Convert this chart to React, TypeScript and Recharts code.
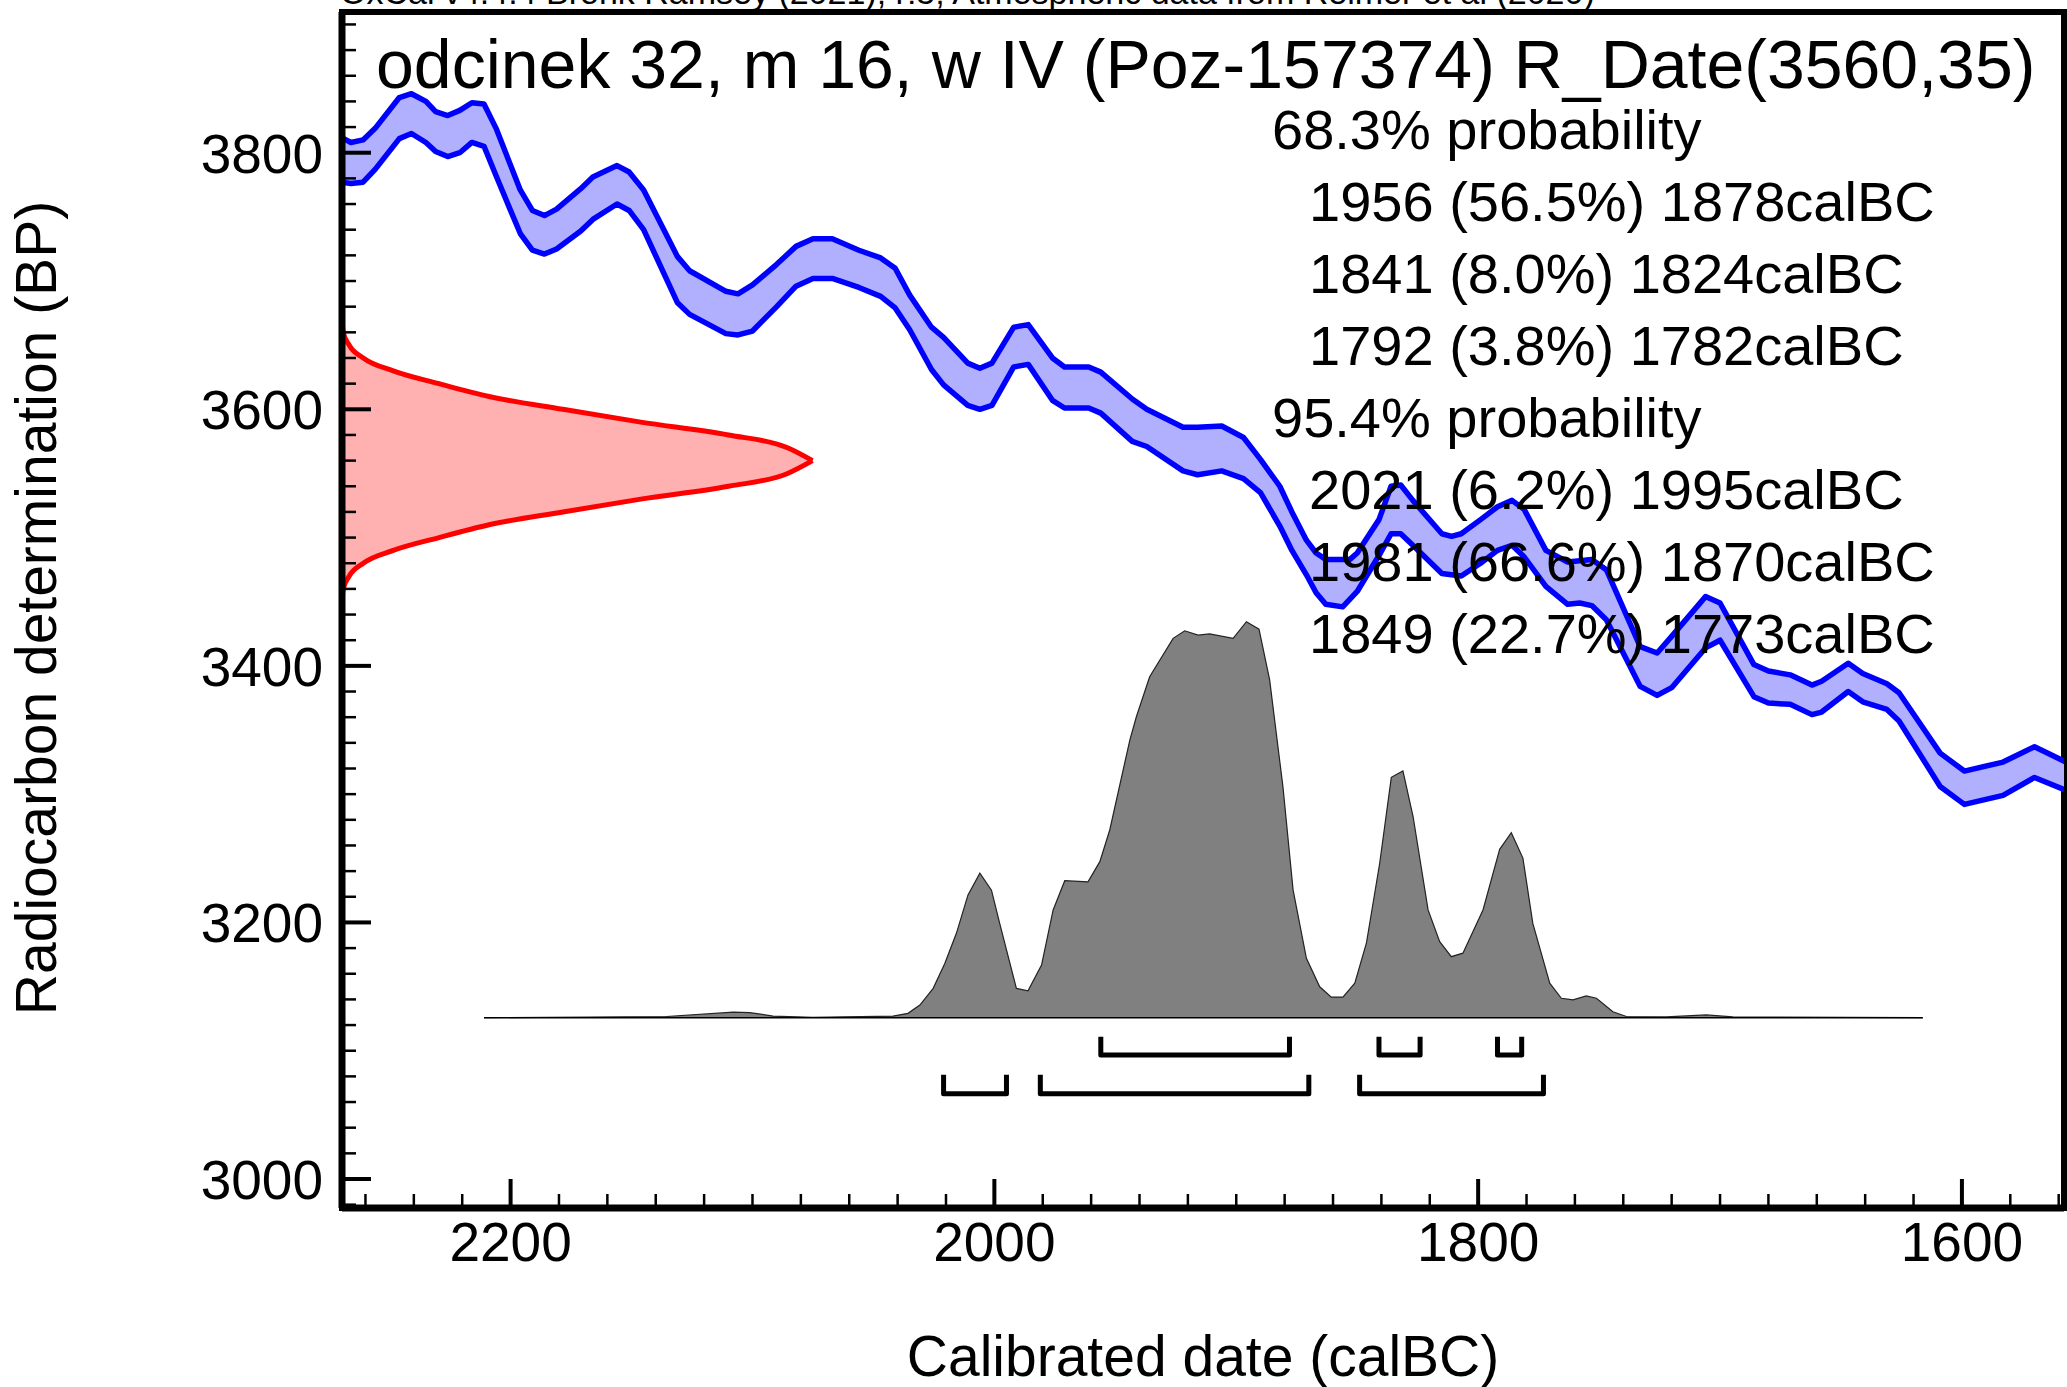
import React from 'react';
import { ComposedChart, Area, Line, XAxis, YAxis, ReferenceArea } from 'recharts';

const W = 2067;
const H = 1387;
const FONT = '"Liberation Sans", Arial, Helvetica, sans-serif';

// calibration curve band (upper / lower 1 sigma)
const calYears = [
  2270, 2266, 2261, 2256, 2246, 2241, 2235, 2231, 2226, 2221,
  2216, 2211, 2206, 2196, 2191, 2186, 2181, 2171, 2166, 2156,
  2151, 2145, 2131, 2126, 2111, 2106, 2100, 2090, 2082, 2075,
  2067, 2056, 2047, 2041, 2035, 2026, 2021, 2011, 2006, 2001,
  1992, 1986, 1976, 1971, 1961, 1956, 1943, 1937, 1922, 1916,
  1906, 1897, 1890, 1882, 1877, 1871, 1867, 1863, 1856, 1853,
  1850, 1841, 1836, 1832, 1827, 1815, 1811, 1807, 1799, 1792,
  1786, 1781, 1772, 1763, 1758, 1753, 1747, 1733, 1726, 1720,
  1706, 1700, 1686, 1680, 1671, 1662, 1658, 1647, 1641, 1631,
  1626, 1609, 1599, 1583, 1570, 1557,
];
const calHigh = [
  3812, 3808, 3810, 3819, 3843, 3846, 3840, 3832, 3829, 3833,
  3839, 3838, 3819, 3771, 3755, 3751, 3756, 3772, 3781, 3790,
  3785, 3771, 3719, 3708, 3692, 3690, 3697, 3713, 3727, 3733,
  3733, 3724, 3718, 3710, 3689, 3664, 3656, 3636, 3632, 3636,
  3664, 3666, 3640, 3633, 3633, 3629, 3608, 3600, 3586, 3586,
  3587, 3578, 3561, 3540, 3520, 3498, 3488, 3483, 3483, 3483,
  3488, 3514, 3540, 3541, 3529, 3503, 3501, 3503, 3514, 3524,
  3529, 3522, 3490, 3481, 3482, 3483, 3475, 3415, 3410, 3423,
  3454, 3449, 3401, 3396, 3393, 3385, 3388, 3402, 3394, 3386,
  3379, 3332, 3318, 3325, 3337, 3325,
];
const calLow = [
  3777, 3776, 3777, 3787, 3811, 3815, 3808, 3801, 3797, 3800,
  3808, 3805, 3782, 3737, 3724, 3721, 3725, 3739, 3748, 3760,
  3755, 3740, 3683, 3674, 3659, 3658, 3661, 3680, 3696, 3702,
  3702, 3695, 3688, 3679, 3662, 3631, 3619, 3603, 3600, 3603,
  3633, 3635, 3607, 3601, 3601, 3597, 3575, 3571, 3552, 3549,
  3552, 3546, 3535, 3509, 3490, 3471, 3457, 3448, 3446, 3452,
  3458, 3486, 3503, 3503, 3494, 3472, 3471, 3470, 3480, 3490,
  3494, 3485, 3462, 3448, 3449, 3447, 3436, 3384, 3377, 3383,
  3414, 3420, 3376, 3371, 3370, 3362, 3364, 3380, 3372, 3366,
  3357, 3306, 3292, 3299, 3313, 3303,
];

// measured date R_Date(3560,35), drawn along the y axis
const likeYears = [2270, 2269.2, 2266.7, 2260.9, 2248.5, 2229.6, 2208.9, 2178.4, 2146.2, 2109.9, 2085.5, 2075.2];
const likeLow = [3440, 3460, 3470, 3480, 3490, 3500, 3510, 3520, 3530, 3540, 3550, 3560];
const likeHigh = [3680, 3660, 3650, 3640, 3630, 3620, 3610, 3600, 3590, 3580, 3570, 3560];

// calibrated distribution (relative probability, peak = 1)
const postYears = [
  2211, 2135.5, 2108, 2101.1, 2091.5, 2075.1, 2041.9, 2035.7, 2030.8, 2025.3,
  2020.5, 2015.7, 2010.9, 2006, 2001.2, 1997.8, 1990.9, 1986.1, 1980.5, 1975.7,
  1970.9, 1961.3, 1956.4, 1952.3, 1944, 1941.3, 1935.8, 1926.1, 1921.3, 1915.8,
  1911, 1901.3, 1895.8, 1890.6, 1886.2, 1880.7, 1876.5, 1871, 1865.5, 1860.7,
  1855.9, 1851, 1846.2, 1840.7, 1835.9, 1831.1, 1826.9, 1820.7, 1815.9, 1811.1,
  1806.3, 1798, 1791.1, 1786.3, 1781.5, 1777.4, 1770.4, 1765.6, 1760.8, 1755.3,
  1751.1, 1744.3, 1738.7, 1722.2, 1705.7, 1694.7, 1616.2,
];
const postProb = [
  0, 0.003, 0.014, 0.013, 0.004, 0.001, 0.004, 0.011, 0.032, 0.074,
  0.137, 0.213, 0.31, 0.365, 0.322, 0.238, 0.074, 0.068, 0.133, 0.272,
  0.346, 0.343, 0.394, 0.474, 0.701, 0.76, 0.861, 0.958, 0.977, 0.966,
  0.969, 0.958, 1.0, 0.981, 0.853, 0.583, 0.322, 0.15, 0.078, 0.052,
  0.052, 0.087, 0.188, 0.39, 0.607, 0.623, 0.508, 0.272, 0.192, 0.154,
  0.163, 0.272, 0.425, 0.467, 0.403, 0.238, 0.087, 0.049, 0.045, 0.055,
  0.049, 0.015, 0.003, 0.002, 0.007, 0.002, 0,
];

// highest probability ranges
const range68 = [[1956, 1878], [1841, 1824], [1792, 1782]];
const prob68 = [56.5, 8.0, 3.8];
const range95 = [[2021, 1995], [1981, 1870], [1849, 1773]];
const prob95 = [6.2, 66.6, 22.7];

const xMajor = [2200, 2000, 1800, 1600];
const yMajor = [3000, 3200, 3400, 3600, 3800];

const X_MIN = 1557.8;
const X_MAX = 2269.7;
const Y_MIN = 2977.4;
const Y_MAX = 3909.7;
const P_MIN = -0.4806;
const P_MAX = 2.5396;

const xTicks: number[] = [];
for (let v = 2260; v >= 1560; v -= 20) xTicks.push(v);
const yTicks: number[] = [];
for (let v = 2980; v <= 3900; v += 20) yTicks.push(v);

const calRows = calYears.map((year, i) => ({ year, lo: calLow[i], hi: calHigh[i] }));
const likeRows = likeYears.map((year, i) => ({ year, lo: likeLow[i], hi: likeHigh[i] }));
const postRows = postYears.map((year, i) => ({ year, p: postProb[i] }));
const postBase = [
  { year: postYears[0], p: 0 },
  { year: postYears[postYears.length - 1], p: 0 },
];

function bracket(r: number[], top: number, bottom: number) {
  return [
    { year: r[0], bp: top },
    { year: r[0], bp: bottom },
    { year: r[1], bp: bottom },
    { year: r[1], bp: top },
  ];
}

const textLines = [
  { text: '68.3% probability', indent: false },
  ...range68.map((r, i) => ({ text: `${r[0]} (${prob68[i].toFixed(1)}%) ${r[1]}calBC`, indent: true })),
  { text: '95.4% probability', indent: false },
  ...range95.map((r, i) => ({ text: `${r[0]} (${prob95[i].toFixed(1)}%) ${r[1]}calBC`, indent: true })),
];

function XTick({ x, y, payload }: any) {
  const major = xMajor.includes(payload.value);
  return (
    <g>
      <line x1={x} x2={x} y1={y} y2={y - (major ? 29 : 14)} stroke="#000" strokeWidth={major ? 4 : 2.5} />
      {major && (
        <text x={x} y={y + 53} textAnchor="middle" fontSize={55} fontFamily={FONT} fill="#000">
          {payload.value}
        </text>
      )}
    </g>
  );
}

function YTick({ x, y, payload }: any) {
  const major = yMajor.includes(payload.value);
  return (
    <g>
      <line x1={x} x2={x + (major ? 29 : 14)} y1={y} y2={y} stroke="#000" strokeWidth={major ? 4 : 2.5} />
      {major && (
        <text x={x - 19} y={y + 20} textAnchor="end" fontSize={55} fontFamily={FONT} fill="#000">
          {payload.value}
        </text>
      )}
    </g>
  );
}

export default function App() {
  return (
    <div style={{ position: 'relative', width: W, height: H, background: '#fff' }}>
      <style>{'body{margin:0;background:#fff}'}</style>
      <ComposedChart width={W} height={H} margin={{ top: 12, right: 3, bottom: 0, left: 0 }}>
        <XAxis
          type="number"
          dataKey="year"
          domain={[X_MIN, X_MAX]}
          reversed
          allowDataOverflow
          ticks={xTicks}
          interval={0}
          tickLine={false}
          tickSize={0}
          tickMargin={0}
          tick={(p: any) => <XTick {...p} />}
          axisLine={{ stroke: '#000', strokeWidth: 7 }}
          height={179}
        />
        <YAxis
          type="number"
          domain={[Y_MIN, Y_MAX]}
          allowDataOverflow
          ticks={yTicks}
          interval={0}
          tickLine={false}
          tickSize={0}
          tickMargin={0}
          tick={(p: any) => <YTick {...p} />}
          axisLine={{ stroke: '#000', strokeWidth: 7 }}
          width={342}
        />
        <YAxis yAxisId="p" type="number" domain={[P_MIN, P_MAX]} allowDataOverflow hide />

        <ReferenceArea x1={X_MIN} x2={X_MAX} y1={Y_MIN} y2={Y_MAX} fill="none" stroke="#000" strokeWidth={6} ifOverflow="visible" />

        {/* measured radiocarbon date */}
        <Area
          data={likeRows}
          dataKey={(d: any) => [d.lo, d.hi]}
          type="monotone"
          fill="#ffb0b0"
          fillOpacity={1}
          stroke="none"
          isAnimationActive={false}
        />
        <Line data={likeRows} dataKey="hi" type="monotone" stroke="#ff0000" strokeWidth={5} dot={false} activeDot={false} isAnimationActive={false} />
        <Line data={likeRows} dataKey="lo" type="monotone" stroke="#ff0000" strokeWidth={5} dot={false} activeDot={false} isAnimationActive={false} />

        {/* calibration curve */}
        <Area
          data={calRows}
          dataKey={(d: any) => [d.lo, d.hi]}
          type="linear"
          fill="#b0b0ff"
          fillOpacity={1}
          stroke="none"
          isAnimationActive={false}
        />
        <Line data={calRows} dataKey="hi" type="linear" stroke="#0000ff" strokeWidth={5.5} strokeLinejoin="round" dot={false} activeDot={false} isAnimationActive={false} />
        <Line data={calRows} dataKey="lo" type="linear" stroke="#0000ff" strokeWidth={5.5} strokeLinejoin="round" dot={false} activeDot={false} isAnimationActive={false} />

        {/* calibrated date */}
        <Area
          yAxisId="p"
          data={postRows}
          dataKey="p"
          type="linear"
          baseValue={0}
          fill="#808080"
          fillOpacity={1}
          stroke="#222"
          strokeWidth={1.2}
          isAnimationActive={false}
        />
        <Line yAxisId="p" data={postBase} dataKey="p" stroke="#000" strokeWidth={1.5} dot={false} activeDot={false} isAnimationActive={false} />

        {range68.map((r, i) => (
          <Line
            key={`a${i}`}
            data={bracket(r, 3110.8, 3096.7)}
            dataKey="bp"
            type="linear"
            stroke="#000"
            strokeWidth={5}
            strokeLinejoin="round"
            dot={false}
            activeDot={false}
            isAnimationActive={false}
          />
        ))}
        {range95.map((r, i) => (
          <Line
            key={`b${i}`}
            data={bracket(r, 3081.2, 3066.4)}
            dataKey="bp"
            type="linear"
            stroke="#000"
            strokeWidth={5}
            strokeLinejoin="round"
            dot={false}
            activeDot={false}
            isAnimationActive={false}
          />
        ))}
      </ComposedChart>

      <svg
        width={W}
        height={H}
        style={{ position: 'absolute', left: 0, top: 0, pointerEvents: 'none' }}
        fontFamily={FONT}
      >
        <text x={340} y={4} fontSize={34}>
          OxCal v4.4.4 Bronk Ramsey (2021); r:5; Atmospheric data from Reimer et al (2020)
        </text>
        <text x={376} y={88} fontSize={68}>
          odcinek 32, m 16, w IV (Poz-157374) R_Date(3560,35)
        </text>
        {textLines.map((l, i) => (
          <text key={i} x={l.indent ? 1309 : 1272} y={149 + i * 72} fontSize={56}>
            {l.text}
          </text>
        ))}
        <text transform="translate(56,608) rotate(-90)" textAnchor="middle" fontSize={57}>
          Radiocarbon determination (BP)
        </text>
        <text x={1203} y={1376} textAnchor="middle" fontSize={57}>
          Calibrated date (calBC)
        </text>
      </svg>
    </div>
  );
}
